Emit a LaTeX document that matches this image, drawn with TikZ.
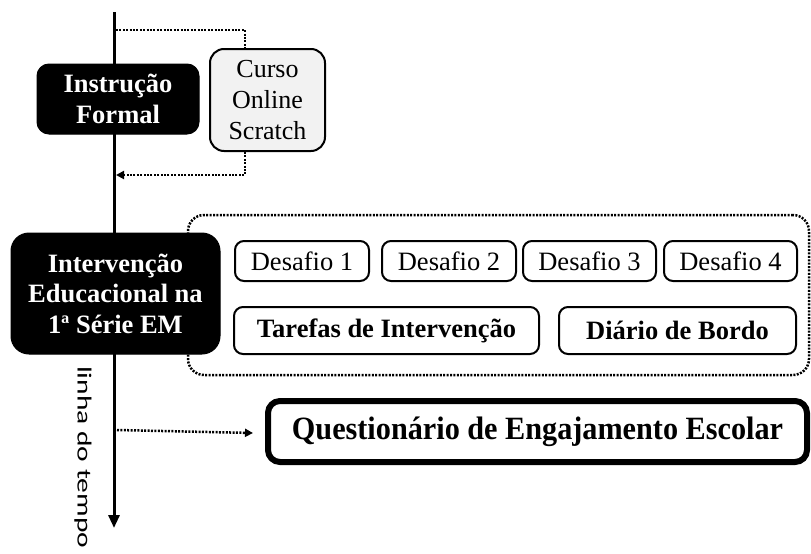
\documentclass[tikz,border=0pt]{standalone}
\usepackage{fontspec}
\setmainfont{Liberation Serif}
\newfontfamily\carlitofont{Carlito}
\usetikzlibrary{arrows.meta}
\begin{document}
\begin{tikzpicture}[x=1pt,y=-1pt,
  darkbox/.style={draw=black, fill=black, text=white, rounded corners=12pt, line width=1pt,
    inner sep=0pt, align=center, font=\fontsize{26.5}{30.5}\selectfont\bfseries},
  greybox/.style={draw=black, fill=black!5, rounded corners=14pt, line width=2pt,
    inner sep=0pt, align=center, font=\fontsize{26}{31}\selectfont},
  wbox/.style={draw=black, fill=white, rounded corners=9pt, line width=2pt,
    inner sep=0pt, align=center, font=\fontsize{26.5}{30}\selectfont},
  dotline/.style={line width=2.5pt, dash pattern=on 2pt off 1.4pt},
  dottip/.style={-{Triangle[length=8pt,width=8pt]}}
]
\useasboundingbox (0,0) rectangle (811,554);

% timeline
\coordinate (top) at (114,12);
\coordinate (bot) at (114,528);
\draw[line width=3pt, -{Triangle[length=13pt,width=11pt]}] (top) -- (bot);

\node[rotate=-90, anchor=west, inner sep=0pt] (tl) at (83,366)
  {\scalebox{1}[0.68]{\carlitofont\fontsize{29.5}{33}\selectfont linha do tempo}};

% Instrucao formal
\node[darkbox, minimum width=162pt, minimum height=70pt] (inst) at (118,99) {Instrução\\Formal};
\node[greybox, minimum width=115pt, minimum height=102pt] (curso) at (267.5,100) {Curso\\Online\\Scratch};

\coordinate (t1) at (116,30);
\coordinate (t2) at (116,175);
\draw[dotline] (t1) -| ([xshift=-22.5pt]curso.north);
\draw[dotline, dottip] ([xshift=-22.5pt]curso.south) |- (t2);

% Intervencao
\node[draw=black, dotline, rounded corners=16pt, minimum width=621pt, minimum height=160pt] (cont) at (498.5,295) {};
\node[darkbox, rounded corners=18pt, minimum width=209pt, minimum height=121pt] (interv) at (115.5,293.5)
  {Intervenção\\Educacional na\\1ª Série EM};

\node[wbox, minimum width=134pt, minimum height=40pt] (d1) at (302,261) {Desafio 1};
\node[wbox, minimum width=134pt, minimum height=40pt] (d2) at (449,261) {Desafio 2};
\node[wbox, minimum width=133pt, minimum height=40pt] (d3) at (589.5,261) {Desafio 3};
\node[wbox, minimum width=133pt, minimum height=40pt] (d4) at (730.5,261) {Desafio 4};

\node[wbox, font=\fontsize{26.5}{30}\selectfont\bfseries, minimum width=305pt, minimum height=47pt] (taref) at (386.5,330.5) {Tarefas de Intervenção};
\node[wbox, font=\fontsize{26.5}{30}\selectfont\bfseries, minimum width=237pt, minimum height=47pt] (diario) at (677.5,330.5) {Diário de Bordo};

% Questionario
\node[draw=black, fill=white, line width=6pt, rounded corners=12pt, inner sep=0pt,
  minimum width=539pt, minimum height=61pt] (quest) at (537.5,431.5)
  {\scalebox{0.93}[1]{\fontsize{32.5}{35}\selectfont\bfseries Questionário de Engajamento Escolar}};

\coordinate (t3) at (117,430);
\draw[dotline, dottip] (t3) -- ([xshift=-12pt, yshift=-1.5pt]quest.west);

\end{tikzpicture}
\end{document}
